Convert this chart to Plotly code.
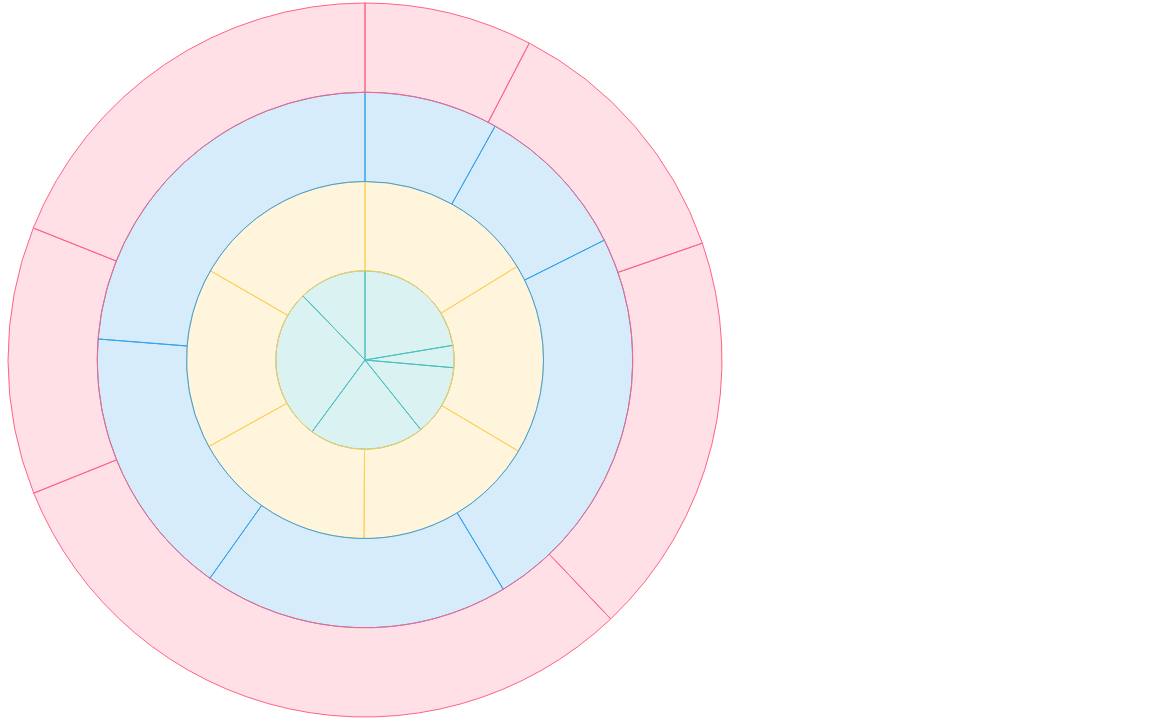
import plotly.graph_objects as go

W, H = 1152, 722
labels = ["Red", "Blue", "Yellow", "Green", "Purple", "Orange"]

ring_outer = [27.4, 43.5, 65.6, 111.6, 43.6, 68.3]
ring_third = [29.1, 34.3, 85.5, 66.5, 59.1, 85.5]
ring_second = [58.4, 62.3, 59.6, 60.7, 59.0, 60.0]
ring_inner = [80.5, 14.5, 46.3, 75.1, 99.5, 44.1]

datasets = [
    (ring_outer, "rgba(255,99,132,0.2)", "rgb(255,99,132)"),
    (ring_third, "rgba(54,162,235,0.2)", "rgb(54,162,235)"),
    (ring_second, "rgba(255,206,86,0.2)", "rgb(255,206,86)"),
    (ring_inner, "rgba(75,192,192,0.2)", "rgb(75,192,192)"),
]

cx, cy = 365.0, 722 - 360.0
R = 357.0
step = R / 4.0

fig = go.Figure()
# draw innermost first so outer rings' borders sit on top
for i in reversed(range(len(datasets))):
    vals, fill, line = datasets[i]
    ro = R - i * step
    ri = ro - step
    fig.add_trace(go.Pie(
        labels=labels, values=vals, sort=False, direction="clockwise", rotation=0,
        hole=(ri / ro) if ri > 0 else 0,
        marker=dict(colors=[fill] * 6, line=dict(color=line, width=1)),
        textinfo="none", showlegend=False,
        domain=dict(x=[(cx - ro) / W, (cx + ro) / W], y=[(cy - ro) / H, (cy + ro) / H]),
    ))

fig.update_layout(width=W, height=H, margin=dict(l=0, r=0, t=0, b=0),
                  paper_bgcolor="white", plot_bgcolor="white", showlegend=False)
fig.write_html("out.html", config={"displayModeBar": False},
               post_script="document.body.style.margin='0';document.body.style.overflow='hidden';")
